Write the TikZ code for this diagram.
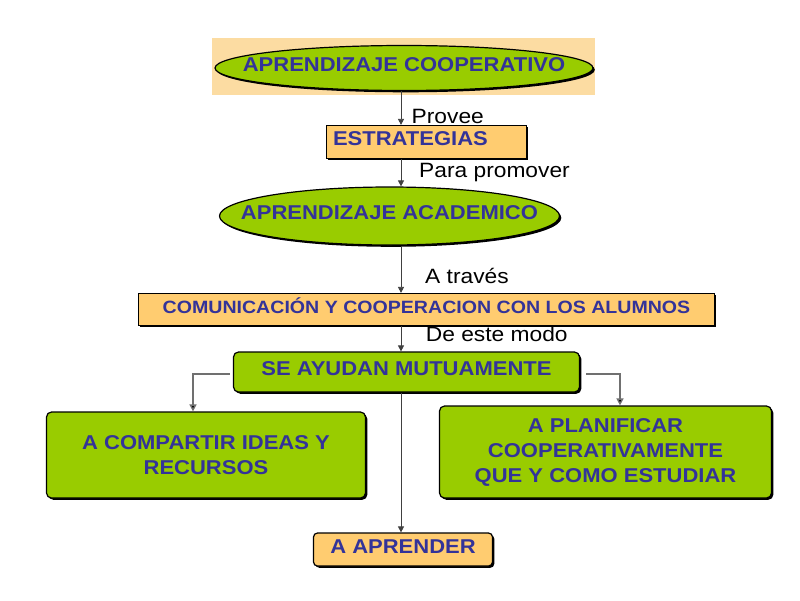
\documentclass[tikz,border=0pt]{standalone}
\usepackage{fontspec}
\setmainfont{Liberation Sans}[FakeStretch=1.1]
\usetikzlibrary{shapes.geometric,shadows,arrows.meta}
\definecolor{grn}{HTML}{99CC00}
\definecolor{peach}{HTML}{FFCC70}
\definecolor{peachbg}{HTML}{FCDCA2}
\definecolor{txtblue}{HTML}{333399}
\definecolor{conn}{HTML}{404040}
\definecolor{conn2}{HTML}{707070}
\begin{document}
\begin{tikzpicture}[x=1pt,y=-1pt,
  boxtxt/.style={font=\bfseries\fontsize{20}{25}\selectfont, text=txtblue, inner sep=0pt},
  oneline/.style={text height=0.72em, text depth=0pt},
  lab/.style={font=\fontsize{20.7}{24}\selectfont, anchor=base west, inner sep=0pt},
  shad/.style={drop shadow={shadow xshift=1.8pt, shadow yshift=-1.8pt, fill=black, opacity=1}},
  ell/.style={ellipse, draw=black, line width=1.2pt, fill=grn, boxtxt, oneline, shad},
  gbox/.style={rectangle, rounded corners=5pt, draw=black, line width=1.2pt, fill=grn, boxtxt, align=center, shad},
  pbox/.style={rectangle, draw=black, line width=1.2pt, fill=peach, boxtxt, oneline, shad},
  arr/.style={draw=conn, line width=0.8pt, -{Triangle[length=6pt,width=6pt]}},
  arrs/.style={draw=conn2, line width=1.4pt, -{Triangle[length=7pt,width=7pt,fill=black]}},
]
\fill[white] (0,0) rectangle (800,600);
\useasboundingbox (0,0) rectangle (800,600);
\fill[peachbg] (212,38) rectangle (595,95);

\node[ell, minimum width=378pt, minimum height=45pt] (e1) at (404,68) {\makebox[0pt]{APRENDIZAJE COOPERATIVO}};
\node[pbox, minimum width=200pt, minimum height=33pt, text width=187pt, align=left] (estr) at (426.5,142) {ESTRATEGIAS};
\node[ell, minimum width=340pt, minimum height=58pt] (e2) at (389.5,216) {\makebox[0pt]{APRENDIZAJE ACADEMICO}};
\node[pbox, minimum width=576pt, minimum height=32pt, font=\bfseries\fontsize{17.8}{22}\selectfont] (com) at (426.5,309.5) {COMUNICACIÓN Y COOPERACION CON LOS ALUMNOS};
\node[gbox, oneline, minimum width=346pt, minimum height=40pt] (se) at (406.5,372) {SE AYUDAN MUTUAMENTE};
\node[gbox, minimum width=319pt, minimum height=86pt] (left) at (206,455) {A COMPARTIR IDEAS Y\\RECURSOS};
\node[gbox, minimum width=332pt, minimum height=92pt] (right) at (605.5,452) {A PLANIFICAR\\COOPERATIVAMENTE\\QUE Y COMO ESTUDIAR};
\node[pbox, rounded corners=4pt, minimum width=179pt, minimum height=33pt] (apr) at (403,549.5) {A APRENDER};

\coordinate (sp) at (401,0);
\draw[arr] (sp |- e1.south) -- (sp |- estr.north);
\draw[arr] (sp |- estr.south) -- (sp |- e2.north);
\draw[arr] (sp |- e2.south) -- (sp |- com.north);
\draw[arr] (sp |- com.south) -- (sp |- se.north);
\draw[arr] (sp |- se.south) -- (sp |- apr.north);
\draw[arrs] ([xshift=-3pt,yshift=-2pt]se.west) -| ([xshift=-13pt]left.north);
\draw[arrs] ([xshift=6pt,yshift=-2pt]se.east) -| ([xshift=14.5pt]right.north);

\node[lab] (l1) at (411.5,123.3) {Provee};
\node[lab] (l2) at (419,177) {Para promover};
\node[lab] (l3) at (425,283) {A través};
\node[lab] (l4) at (425.7,341.7) {De este modo};
\end{tikzpicture}
\end{document}
